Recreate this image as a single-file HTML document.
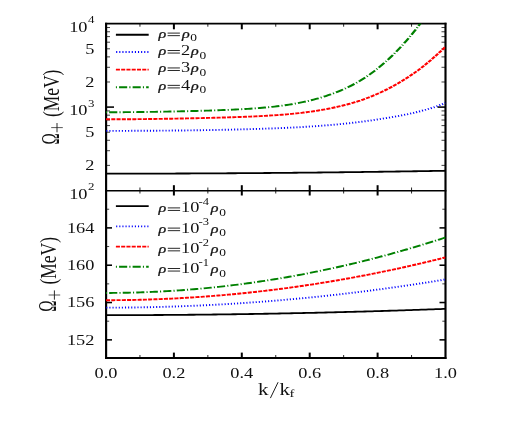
<!DOCTYPE html><html><head><meta charset="utf-8"><title>Omega+ vs k/kf</title><style>html,body{margin:0;padding:0;background:#fff}svg{display:block;will-change:transform;transform:translateZ(0)}text{font-family:"Liberation Serif",serif;fill:#111}</style></head><body>
<svg width="526" height="443" viewBox="0 0 526 443">
<rect width="526" height="443" fill="#fff"/>
<g stroke="#000">
<line x1="173.90" y1="23.70" x2="173.90" y2="29.30" stroke-width="2.0"/>
<line x1="173.90" y1="185.20" x2="173.90" y2="195.50" stroke-width="2.0"/>
<line x1="173.90" y1="352.60" x2="173.90" y2="358.00" stroke-width="2.0"/>
<line x1="241.80" y1="23.70" x2="241.80" y2="29.30" stroke-width="2.0"/>
<line x1="241.80" y1="185.20" x2="241.80" y2="195.50" stroke-width="2.0"/>
<line x1="241.80" y1="352.60" x2="241.80" y2="358.00" stroke-width="2.0"/>
<line x1="309.70" y1="23.70" x2="309.70" y2="29.30" stroke-width="2.0"/>
<line x1="309.70" y1="185.20" x2="309.70" y2="195.50" stroke-width="2.0"/>
<line x1="309.70" y1="352.60" x2="309.70" y2="358.00" stroke-width="2.0"/>
<line x1="377.60" y1="23.70" x2="377.60" y2="29.30" stroke-width="2.0"/>
<line x1="377.60" y1="185.20" x2="377.60" y2="195.50" stroke-width="2.0"/>
<line x1="377.60" y1="352.60" x2="377.60" y2="358.00" stroke-width="2.0"/>
<line x1="106.00" y1="107.10" x2="114.00" y2="107.10" stroke-width="1.55"/>
<line x1="437.50" y1="107.10" x2="445.50" y2="107.10" stroke-width="1.55"/>
<line x1="106.00" y1="339.85" x2="112.00" y2="339.85" stroke-width="1.55"/>
<line x1="439.50" y1="339.85" x2="445.50" y2="339.85" stroke-width="1.55"/>
<line x1="106.00" y1="302.53" x2="112.00" y2="302.53" stroke-width="1.55"/>
<line x1="439.50" y1="302.53" x2="445.50" y2="302.53" stroke-width="1.55"/>
<line x1="106.00" y1="265.21" x2="112.00" y2="265.21" stroke-width="1.55"/>
<line x1="439.50" y1="265.21" x2="445.50" y2="265.21" stroke-width="1.55"/>
<line x1="106.00" y1="227.89" x2="112.00" y2="227.89" stroke-width="1.55"/>
<line x1="439.50" y1="227.89" x2="445.50" y2="227.89" stroke-width="1.55"/>
</g>
<g stroke="#000">
<line x1="139.95" y1="23.70" x2="139.95" y2="26.70" stroke-width="0.85"/>
<line x1="139.95" y1="187.50" x2="139.95" y2="193.50" stroke-width="0.85"/>
<line x1="139.95" y1="355.00" x2="139.95" y2="358.00" stroke-width="0.85"/>
<line x1="207.85" y1="23.70" x2="207.85" y2="26.70" stroke-width="0.85"/>
<line x1="207.85" y1="187.50" x2="207.85" y2="193.50" stroke-width="0.85"/>
<line x1="207.85" y1="355.00" x2="207.85" y2="358.00" stroke-width="0.85"/>
<line x1="275.75" y1="23.70" x2="275.75" y2="26.70" stroke-width="0.85"/>
<line x1="275.75" y1="187.50" x2="275.75" y2="193.50" stroke-width="0.85"/>
<line x1="275.75" y1="355.00" x2="275.75" y2="358.00" stroke-width="0.85"/>
<line x1="343.65" y1="23.70" x2="343.65" y2="26.70" stroke-width="0.85"/>
<line x1="343.65" y1="187.50" x2="343.65" y2="193.50" stroke-width="0.85"/>
<line x1="343.65" y1="355.00" x2="343.65" y2="358.00" stroke-width="0.85"/>
<line x1="411.55" y1="23.70" x2="411.55" y2="26.70" stroke-width="0.85"/>
<line x1="411.55" y1="187.50" x2="411.55" y2="193.50" stroke-width="0.85"/>
<line x1="411.55" y1="355.00" x2="411.55" y2="358.00" stroke-width="0.85"/>
<line x1="106.00" y1="165.39" x2="110.00" y2="165.39" stroke-width="0.75"/>
<line x1="441.50" y1="165.39" x2="445.50" y2="165.39" stroke-width="0.75"/>
<line x1="106.00" y1="150.71" x2="110.00" y2="150.71" stroke-width="0.75"/>
<line x1="441.50" y1="150.71" x2="445.50" y2="150.71" stroke-width="0.75"/>
<line x1="106.00" y1="140.29" x2="110.00" y2="140.29" stroke-width="0.75"/>
<line x1="441.50" y1="140.29" x2="445.50" y2="140.29" stroke-width="0.75"/>
<line x1="106.00" y1="132.21" x2="110.00" y2="132.21" stroke-width="0.75"/>
<line x1="441.50" y1="132.21" x2="445.50" y2="132.21" stroke-width="0.75"/>
<line x1="106.00" y1="125.60" x2="110.00" y2="125.60" stroke-width="0.75"/>
<line x1="441.50" y1="125.60" x2="445.50" y2="125.60" stroke-width="0.75"/>
<line x1="106.00" y1="120.02" x2="110.00" y2="120.02" stroke-width="0.75"/>
<line x1="441.50" y1="120.02" x2="445.50" y2="120.02" stroke-width="0.75"/>
<line x1="106.00" y1="115.18" x2="110.00" y2="115.18" stroke-width="0.75"/>
<line x1="441.50" y1="115.18" x2="445.50" y2="115.18" stroke-width="0.75"/>
<line x1="106.00" y1="110.92" x2="110.00" y2="110.92" stroke-width="0.75"/>
<line x1="441.50" y1="110.92" x2="445.50" y2="110.92" stroke-width="0.75"/>
<line x1="106.00" y1="81.99" x2="110.00" y2="81.99" stroke-width="0.75"/>
<line x1="441.50" y1="81.99" x2="445.50" y2="81.99" stroke-width="0.75"/>
<line x1="106.00" y1="67.31" x2="110.00" y2="67.31" stroke-width="0.75"/>
<line x1="441.50" y1="67.31" x2="445.50" y2="67.31" stroke-width="0.75"/>
<line x1="106.00" y1="56.89" x2="110.00" y2="56.89" stroke-width="0.75"/>
<line x1="441.50" y1="56.89" x2="445.50" y2="56.89" stroke-width="0.75"/>
<line x1="106.00" y1="48.81" x2="110.00" y2="48.81" stroke-width="0.75"/>
<line x1="441.50" y1="48.81" x2="445.50" y2="48.81" stroke-width="0.75"/>
<line x1="106.00" y1="42.20" x2="110.00" y2="42.20" stroke-width="0.75"/>
<line x1="441.50" y1="42.20" x2="445.50" y2="42.20" stroke-width="0.75"/>
<line x1="106.00" y1="36.62" x2="110.00" y2="36.62" stroke-width="0.75"/>
<line x1="441.50" y1="36.62" x2="445.50" y2="36.62" stroke-width="0.75"/>
<line x1="106.00" y1="31.78" x2="110.00" y2="31.78" stroke-width="0.75"/>
<line x1="441.50" y1="31.78" x2="445.50" y2="31.78" stroke-width="0.75"/>
<line x1="106.00" y1="27.52" x2="110.00" y2="27.52" stroke-width="0.75"/>
<line x1="441.50" y1="27.52" x2="445.50" y2="27.52" stroke-width="0.75"/>
<line x1="106.00" y1="321.19" x2="109.20" y2="321.19" stroke-width="0.75"/>
<line x1="442.30" y1="321.19" x2="445.50" y2="321.19" stroke-width="0.75"/>
<line x1="106.00" y1="283.87" x2="109.20" y2="283.87" stroke-width="0.75"/>
<line x1="442.30" y1="283.87" x2="445.50" y2="283.87" stroke-width="0.75"/>
<line x1="106.00" y1="246.55" x2="109.20" y2="246.55" stroke-width="0.75"/>
<line x1="442.30" y1="246.55" x2="445.50" y2="246.55" stroke-width="0.75"/>
<line x1="106.00" y1="209.23" x2="109.20" y2="209.23" stroke-width="0.75"/>
<line x1="442.30" y1="209.23" x2="445.50" y2="209.23" stroke-width="0.75"/>
</g>
<g stroke="#000" stroke-linecap="square">
<line x1="106.0" y1="23.7" x2="445.5" y2="23.7" stroke-width="1.8"/>
<line x1="106.0" y1="358.0" x2="445.5" y2="358.0" stroke-width="1.8"/>
<line x1="106.0" y1="190.75" x2="445.5" y2="190.75" stroke-width="1.7"/>
<line x1="106.1" y1="23.7" x2="106.1" y2="358.0" stroke-width="2.15"/>
<line x1="445.5" y1="23.7" x2="445.5" y2="358.0" stroke-width="2.15"/>
</g>
<clipPath id="ct"><rect x="106.0" y="23.7" width="339.5" height="166.8"/></clipPath>
<clipPath id="cb"><rect x="106.0" y="190.5" width="339.5" height="167.5"/></clipPath>
<g fill="none" clip-path="url(#ct)"><g transform="scale(1.31,1)">
<path d="M80.92,173.65 L82.78,173.65 L84.64,173.65 L86.51,173.65 L88.37,173.65 L90.24,173.65 L92.10,173.64 L93.97,173.64 L95.83,173.64 L97.70,173.64 L99.56,173.63 L101.43,173.63 L103.29,173.63 L105.15,173.62 L107.02,173.62 L108.88,173.62 L110.75,173.61 L112.61,173.61 L114.48,173.60 L116.34,173.60 L118.21,173.59 L120.07,173.58 L121.93,173.58 L123.80,173.57 L125.66,173.56 L127.53,173.56 L129.39,173.55 L131.26,173.54 L133.12,173.53 L134.99,173.52 L136.85,173.51 L138.71,173.51 L140.58,173.50 L142.44,173.49 L144.31,173.48 L146.17,173.47 L148.04,173.46 L149.90,173.44 L151.77,173.43 L153.63,173.42 L155.49,173.41 L157.36,173.40 L159.22,173.39 L161.09,173.37 L162.95,173.36 L164.82,173.35 L166.68,173.33 L168.55,173.32 L170.41,173.30 L172.27,173.29 L174.14,173.27 L176.00,173.26 L177.87,173.24 L179.73,173.23 L181.60,173.21 L183.46,173.20 L185.33,173.18 L187.19,173.16 L189.05,173.15 L190.92,173.13 L192.78,173.11 L194.65,173.09 L196.51,173.07 L198.38,173.05 L200.24,173.04 L202.11,173.02 L203.97,173.00 L205.84,172.98 L207.70,172.96 L209.56,172.94 L211.43,172.91 L213.29,172.89 L215.16,172.87 L217.02,172.85 L218.89,172.83 L220.75,172.81 L222.62,172.78 L224.48,172.76 L226.34,172.74 L228.21,172.71 L230.07,172.69 L231.94,172.67 L233.80,172.64 L235.67,172.62 L237.53,172.59 L239.40,172.57 L241.26,172.54 L243.12,172.51 L244.99,172.49 L246.85,172.46 L248.72,172.43 L250.58,172.41 L252.45,172.38 L254.31,172.35 L256.18,172.32 L258.04,172.30 L259.90,172.27 L261.77,172.24 L263.63,172.21 L265.50,172.18 L267.36,172.15 L269.23,172.12 L271.09,172.09 L272.96,172.06 L274.82,172.03 L276.68,172.00 L278.55,171.96 L280.41,171.93 L282.28,171.90 L284.14,171.87 L286.01,171.83 L287.87,171.80 L289.74,171.77 L291.60,171.73 L293.46,171.70 L295.33,171.66 L297.19,171.63 L299.06,171.60 L300.92,171.56 L302.79,171.52 L304.65,171.49 L306.52,171.45 L308.38,171.42 L310.24,171.38 L312.11,171.34 L313.97,171.30 L315.84,171.27 L317.70,171.23 L319.57,171.19 L321.43,171.15 L323.30,171.11 L325.16,171.07 L327.03,171.03 L328.89,170.99 L330.75,170.95 L332.62,170.91 L334.48,170.87 L336.35,170.83 L338.21,170.79 L340.08,170.75" stroke="#000" stroke-width="1.8"/>
<path d="M80.92,130.86 L82.78,130.86 L84.64,130.86 L86.51,130.86 L88.37,130.86 L90.24,130.85 L92.10,130.85 L93.97,130.84 L95.83,130.84 L97.70,130.83 L99.56,130.82 L101.43,130.82 L103.29,130.81 L105.15,130.80 L107.02,130.79 L108.88,130.78 L110.75,130.76 L112.61,130.75 L114.48,130.74 L116.34,130.72 L118.21,130.71 L120.07,130.69 L121.93,130.67 L123.80,130.65 L125.66,130.63 L127.53,130.61 L129.39,130.59 L131.26,130.57 L133.12,130.55 L134.99,130.52 L136.85,130.50 L138.71,130.47 L140.58,130.44 L142.44,130.41 L144.31,130.38 L146.17,130.35 L148.04,130.32 L149.90,130.28 L151.77,130.25 L153.63,130.21 L155.49,130.17 L157.36,130.13 L159.22,130.09 L161.09,130.05 L162.95,130.00 L164.82,129.96 L166.68,129.91 L168.55,129.86 L170.41,129.81 L172.27,129.75 L174.14,129.70 L176.00,129.64 L177.87,129.58 L179.73,129.52 L181.60,129.46 L183.46,129.39 L185.33,129.32 L187.19,129.25 L189.05,129.18 L190.92,129.10 L192.78,129.04 L194.65,128.97 L196.51,128.90 L198.38,128.83 L200.24,128.76 L202.11,128.68 L203.97,128.60 L205.84,128.51 L207.70,128.43 L209.56,128.34 L211.43,128.24 L213.29,128.14 L215.16,128.04 L217.02,127.94 L218.89,127.83 L220.75,127.71 L222.62,127.60 L224.48,127.47 L226.34,127.35 L228.21,127.21 L230.07,127.08 L231.94,126.93 L233.80,126.78 L235.67,126.63 L237.53,126.47 L239.40,126.30 L241.26,126.13 L243.12,125.96 L244.99,125.77 L246.85,125.59 L248.72,125.39 L250.58,125.19 L252.45,124.98 L254.31,124.76 L256.18,124.54 L258.04,124.31 L259.90,124.08 L261.77,123.83 L263.63,123.58 L265.50,123.33 L267.36,123.07 L269.23,122.79 L271.09,122.51 L272.96,122.22 L274.82,121.92 L276.68,121.61 L278.55,121.29 L280.41,120.96 L282.28,120.62 L284.14,120.27 L286.01,119.91 L287.87,119.53 L289.74,119.15 L291.60,118.75 L293.46,118.34 L295.33,117.96 L297.19,117.57 L299.06,117.16 L300.92,116.75 L302.79,116.32 L304.65,115.87 L306.52,115.41 L308.38,114.94 L310.24,114.45 L312.11,113.94 L313.97,113.42 L315.84,112.87 L317.70,112.26 L319.57,111.64 L321.43,111.00 L323.30,110.34 L325.16,109.67 L327.03,108.97 L328.89,108.26 L330.75,107.51 L332.62,106.64 L334.48,105.76 L336.35,104.85 L338.21,103.92 L340.08,102.97" stroke="#0000ff" stroke-width="1.9" stroke-dasharray="0.84 1.54" stroke-dashoffset="-0.2"/>
<path d="M80.92,119.31 L82.78,119.31 L84.64,119.30 L86.51,119.30 L88.37,119.29 L90.24,119.28 L92.10,119.27 L93.97,119.26 L95.83,119.25 L97.70,119.23 L99.56,119.22 L101.43,119.20 L103.29,119.18 L105.15,119.15 L107.02,119.13 L108.88,119.11 L110.75,119.08 L112.61,119.05 L114.48,119.02 L116.34,118.99 L118.21,118.96 L120.07,118.92 L121.93,118.89 L123.80,118.85 L125.66,118.81 L127.53,118.77 L129.39,118.73 L131.26,118.69 L133.12,118.64 L134.99,118.60 L136.85,118.55 L138.71,118.51 L140.58,118.46 L142.44,118.41 L144.31,118.36 L146.17,118.31 L148.04,118.26 L149.90,118.20 L151.77,118.15 L153.63,118.09 L155.49,118.03 L157.36,117.97 L159.22,117.91 L161.09,117.85 L162.95,117.79 L164.82,117.72 L166.68,117.66 L168.55,117.59 L170.41,117.52 L172.27,117.45 L174.14,117.37 L176.00,117.30 L177.87,117.22 L179.73,117.14 L181.60,117.05 L183.46,116.96 L185.33,116.87 L187.19,116.78 L189.05,116.68 L190.92,116.58 L192.78,116.47 L194.65,116.36 L196.51,116.24 L198.38,116.12 L200.24,115.99 L202.11,115.86 L203.97,115.72 L205.84,115.57 L207.70,115.42 L209.56,115.26 L211.43,115.09 L213.29,114.91 L215.16,114.72 L217.02,114.53 L218.89,114.32 L220.75,114.11 L222.62,113.88 L224.48,113.64 L226.34,113.39 L228.21,113.12 L230.07,112.84 L231.94,112.55 L233.80,112.24 L235.67,111.92 L237.53,111.58 L239.40,111.22 L241.26,110.85 L243.12,110.46 L244.99,110.05 L246.85,109.63 L248.72,109.20 L250.58,108.74 L252.45,108.26 L254.31,107.76 L256.18,107.24 L258.04,106.69 L259.90,106.12 L261.77,105.53 L263.63,104.91 L265.50,104.27 L267.36,103.60 L269.23,102.90 L271.09,102.17 L272.96,101.41 L274.82,100.63 L276.68,99.78 L278.55,98.91 L280.41,98.00 L282.28,97.05 L284.14,96.07 L286.01,95.05 L287.87,94.00 L289.74,92.91 L291.60,91.78 L293.46,90.61 L295.33,89.40 L297.19,88.15 L299.06,86.86 L300.92,85.53 L302.79,84.16 L304.65,82.74 L306.52,81.29 L308.38,79.79 L310.24,78.24 L312.11,76.66 L313.97,75.03 L315.84,73.35 L317.70,71.64 L319.57,69.88 L321.43,68.04 L323.30,66.11 L325.16,64.13 L327.03,62.10 L328.89,60.03 L330.75,57.91 L332.62,55.76 L334.48,53.56 L336.35,51.31 L338.21,49.03 L340.08,46.71" stroke="#ff0000" stroke-width="1.9" stroke-dasharray="3.09 0.93"/>
<path d="M80.92,112.23 L82.78,112.23 L84.64,112.23 L86.51,112.23 L88.37,112.22 L90.24,112.21 L92.10,112.20 L93.97,112.18 L95.83,112.17 L97.70,112.15 L99.56,112.13 L101.43,112.11 L103.29,112.09 L105.15,112.06 L107.02,112.03 L108.88,112.00 L110.75,111.97 L112.61,111.94 L114.48,111.91 L116.34,111.87 L118.21,111.83 L120.07,111.79 L121.93,111.75 L123.80,111.71 L125.66,111.66 L127.53,111.62 L129.39,111.57 L131.26,111.52 L133.12,111.47 L134.99,111.42 L136.85,111.36 L138.71,111.31 L140.58,111.25 L142.44,111.19 L144.31,111.13 L146.17,111.07 L148.04,111.01 L149.90,110.94 L151.77,110.87 L153.63,110.80 L155.49,110.73 L157.36,110.66 L159.22,110.58 L161.09,110.50 L162.95,110.42 L164.82,110.34 L166.68,110.25 L168.55,110.16 L170.41,110.06 L172.27,109.96 L174.14,109.86 L176.00,109.75 L177.87,109.64 L179.73,109.52 L181.60,109.40 L183.46,109.27 L185.33,109.14 L187.19,108.99 L189.05,108.85 L190.92,108.69 L192.78,108.52 L194.65,108.35 L196.51,108.17 L198.38,107.97 L200.24,107.77 L202.11,107.55 L203.97,107.33 L205.84,107.09 L207.70,106.84 L209.56,106.57 L211.43,106.29 L213.29,105.99 L215.16,105.67 L217.02,105.34 L218.89,104.99 L220.75,104.62 L222.62,104.23 L224.48,103.82 L226.34,103.38 L228.21,102.92 L230.07,102.44 L231.94,101.93 L233.80,101.39 L235.67,100.83 L237.53,100.24 L239.40,99.61 L241.26,98.96 L243.12,98.27 L244.99,97.55 L246.85,96.81 L248.72,96.04 L250.58,95.23 L252.45,94.38 L254.31,93.49 L256.18,92.57 L258.04,91.60 L259.90,90.59 L261.77,89.53 L263.63,88.43 L265.50,87.28 L267.36,86.09 L269.23,84.84 L271.09,83.54 L272.96,82.20 L274.82,80.79 L276.68,79.28 L278.55,77.71 L280.41,76.08 L282.28,74.39 L284.14,72.63 L286.01,70.81 L287.87,68.92 L289.74,66.96 L291.60,64.93 L293.46,62.83 L295.33,60.66 L297.19,58.42 L299.06,56.11 L300.92,53.72 L302.79,51.25 L304.65,48.71 L306.52,46.11 L308.38,43.44 L310.24,40.69 L312.11,37.87 L313.97,34.96 L315.84,31.99 L317.70,28.93 L319.57,25.80 L321.43,22.59 L323.30,19.30" stroke="#008000" stroke-width="1.9" stroke-dasharray="6.2 1.64 0.85 1.64" stroke-dashoffset="7.9"/>
</g></g>
<g fill="none" clip-path="url(#cb)"><g transform="scale(1.31,1)">
<path d="M80.92,315.15 L82.78,315.15 L84.64,315.15 L86.51,315.15 L88.37,315.14 L90.24,315.14 L92.10,315.14 L93.97,315.13 L95.83,315.13 L97.70,315.12 L99.56,315.12 L101.43,315.11 L103.29,315.10 L105.15,315.09 L107.02,315.09 L108.88,315.08 L110.75,315.07 L112.61,315.06 L114.48,315.04 L116.34,315.03 L118.21,315.02 L120.07,315.01 L121.93,314.99 L123.80,314.98 L125.66,314.96 L127.53,314.95 L129.39,314.93 L131.26,314.91 L133.12,314.89 L134.99,314.88 L136.85,314.86 L138.71,314.84 L140.58,314.82 L142.44,314.79 L144.31,314.77 L146.17,314.75 L148.04,314.73 L149.90,314.70 L151.77,314.68 L153.63,314.65 L155.49,314.63 L157.36,314.60 L159.22,314.57 L161.09,314.55 L162.95,314.52 L164.82,314.49 L166.68,314.46 L168.55,314.43 L170.41,314.40 L172.27,314.37 L174.14,314.33 L176.00,314.30 L177.87,314.27 L179.73,314.23 L181.60,314.20 L183.46,314.16 L185.33,314.13 L187.19,314.09 L189.05,314.05 L190.92,314.01 L192.78,313.98 L194.65,313.94 L196.51,313.90 L198.38,313.86 L200.24,313.81 L202.11,313.77 L203.97,313.73 L205.84,313.69 L207.70,313.64 L209.56,313.60 L211.43,313.55 L213.29,313.51 L215.16,313.46 L217.02,313.41 L218.89,313.36 L220.75,313.32 L222.62,313.27 L224.48,313.22 L226.34,313.17 L228.21,313.11 L230.07,313.06 L231.94,313.01 L233.80,312.96 L235.67,312.90 L237.53,312.85 L239.40,312.79 L241.26,312.74 L243.12,312.68 L244.99,312.62 L246.85,312.57 L248.72,312.51 L250.58,312.45 L252.45,312.39 L254.31,312.33 L256.18,312.27 L258.04,312.21 L259.90,312.14 L261.77,312.08 L263.63,312.02 L265.50,311.95 L267.36,311.89 L269.23,311.82 L271.09,311.76 L272.96,311.69 L274.82,311.62 L276.68,311.56 L278.55,311.49 L280.41,311.42 L282.28,311.35 L284.14,311.28 L286.01,311.20 L287.87,311.13 L289.74,311.06 L291.60,310.99 L293.46,310.91 L295.33,310.84 L297.19,310.76 L299.06,310.69 L300.92,310.61 L302.79,310.53 L304.65,310.45 L306.52,310.38 L308.38,310.30 L310.24,310.22 L312.11,310.14 L313.97,310.06 L315.84,309.97 L317.70,309.89 L319.57,309.81 L321.43,309.72 L323.30,309.64 L325.16,309.55 L327.03,309.47 L328.89,309.38 L330.75,309.30 L332.62,309.21 L334.48,309.12 L336.35,309.03 L338.21,308.94 L340.08,308.85" stroke="#000" stroke-width="1.8"/>
<path d="M80.92,307.65 L82.78,307.65 L84.64,307.64 L86.51,307.64 L88.37,307.63 L90.24,307.61 L92.10,307.60 L93.97,307.58 L95.83,307.56 L97.70,307.53 L99.56,307.50 L101.43,307.47 L103.29,307.44 L105.15,307.40 L107.02,307.36 L108.88,307.32 L110.75,307.28 L112.61,307.23 L114.48,307.18 L116.34,307.12 L118.21,307.07 L120.07,307.01 L121.93,306.94 L123.80,306.88 L125.66,306.81 L127.53,306.74 L129.39,306.66 L131.26,306.59 L133.12,306.51 L134.99,306.42 L136.85,306.34 L138.71,306.25 L140.58,306.16 L142.44,306.06 L144.31,305.96 L146.17,305.86 L148.04,305.76 L149.90,305.65 L151.77,305.54 L153.63,305.43 L155.49,305.31 L157.36,305.20 L159.22,305.08 L161.09,304.95 L162.95,304.82 L164.82,304.69 L166.68,304.56 L168.55,304.43 L170.41,304.29 L172.27,304.15 L174.14,304.00 L176.00,303.85 L177.87,303.70 L179.73,303.55 L181.60,303.39 L183.46,303.23 L185.33,303.07 L187.19,302.91 L189.05,302.74 L190.92,302.57 L192.78,302.40 L194.65,302.22 L196.51,302.04 L198.38,301.86 L200.24,301.67 L202.11,301.48 L203.97,301.29 L205.84,301.10 L207.70,300.90 L209.56,300.70 L211.43,300.50 L213.29,300.29 L215.16,300.08 L217.02,299.87 L218.89,299.66 L220.75,299.44 L222.62,299.22 L224.48,299.00 L226.34,298.77 L228.21,298.54 L230.07,298.31 L231.94,298.07 L233.80,297.84 L235.67,297.60 L237.53,297.35 L239.40,297.10 L241.26,296.86 L243.12,296.60 L244.99,296.35 L246.85,296.09 L248.72,295.83 L250.58,295.56 L252.45,295.30 L254.31,295.03 L256.18,294.75 L258.04,294.48 L259.90,294.20 L261.77,293.92 L263.63,293.63 L265.50,293.34 L267.36,293.05 L269.23,292.76 L271.09,292.46 L272.96,292.17 L274.82,291.86 L276.68,291.56 L278.55,291.25 L280.41,290.94 L282.28,290.63 L284.14,290.31 L286.01,289.99 L287.87,289.67 L289.74,289.34 L291.60,289.01 L293.46,288.68 L295.33,288.35 L297.19,288.01 L299.06,287.67 L300.92,287.33 L302.79,286.98 L304.65,286.63 L306.52,286.28 L308.38,285.93 L310.24,285.57 L312.11,285.21 L313.97,284.84 L315.84,284.48 L317.70,284.11 L319.57,283.74 L321.43,283.36 L323.30,282.98 L325.16,282.60 L327.03,282.22 L328.89,281.83 L330.75,281.44 L332.62,281.05 L334.48,280.65 L336.35,280.26 L338.21,279.85 L340.08,279.45" stroke="#0000ff" stroke-width="1.9" stroke-dasharray="0.84 1.54" stroke-dashoffset="-0.2"/>
<path d="M80.92,300.20 L82.78,300.20 L84.64,300.19 L86.51,300.18 L88.37,300.16 L90.24,300.14 L92.10,300.12 L93.97,300.09 L95.83,300.06 L97.70,300.02 L99.56,299.98 L101.43,299.93 L103.29,299.88 L105.15,299.83 L107.02,299.77 L108.88,299.70 L110.75,299.63 L112.61,299.56 L114.48,299.48 L116.34,299.40 L118.21,299.31 L120.07,299.22 L121.93,299.13 L123.80,299.03 L125.66,298.92 L127.53,298.82 L129.39,298.70 L131.26,298.59 L133.12,298.46 L134.99,298.34 L136.85,298.21 L138.71,298.07 L140.58,297.93 L142.44,297.79 L144.31,297.64 L146.17,297.49 L148.04,297.33 L149.90,297.17 L151.77,297.00 L153.63,296.83 L155.49,296.66 L157.36,296.48 L159.22,296.29 L161.09,296.10 L162.95,295.91 L164.82,295.71 L166.68,295.51 L168.55,295.31 L170.41,295.10 L172.27,294.88 L174.14,294.66 L176.00,294.44 L177.87,294.21 L179.73,293.98 L181.60,293.74 L183.46,293.50 L185.33,293.25 L187.19,293.00 L189.05,292.75 L190.92,292.49 L192.78,292.23 L194.65,291.96 L196.51,291.68 L198.38,291.41 L200.24,291.13 L202.11,290.84 L203.97,290.55 L205.84,290.26 L207.70,289.96 L209.56,289.65 L211.43,289.35 L213.29,289.03 L215.16,288.72 L217.02,288.40 L218.89,288.07 L220.75,287.74 L222.62,287.40 L224.48,287.07 L226.34,286.72 L228.21,286.37 L230.07,286.02 L231.94,285.67 L233.80,285.30 L235.67,284.94 L237.53,284.57 L239.40,284.20 L241.26,283.82 L243.12,283.43 L244.99,283.05 L246.85,282.65 L248.72,282.26 L250.58,281.86 L252.45,281.45 L254.31,281.04 L256.18,280.63 L258.04,280.21 L259.90,279.78 L261.77,279.36 L263.63,278.93 L265.50,278.49 L267.36,278.05 L269.23,277.60 L271.09,277.15 L272.96,276.70 L274.82,276.24 L276.68,275.78 L278.55,275.31 L280.41,274.84 L282.28,274.36 L284.14,273.88 L286.01,273.40 L287.87,272.91 L289.74,272.41 L291.60,271.91 L293.46,271.41 L295.33,270.90 L297.19,270.39 L299.06,269.88 L300.92,269.36 L302.79,268.83 L304.65,268.30 L306.52,267.77 L308.38,267.23 L310.24,266.69 L312.11,266.14 L313.97,265.59 L315.84,265.03 L317.70,264.47 L319.57,263.91 L321.43,263.34 L323.30,262.76 L325.16,262.18 L327.03,261.60 L328.89,261.02 L330.75,260.42 L332.62,259.83 L334.48,259.23 L336.35,258.62 L338.21,258.01 L340.08,257.40" stroke="#ff0000" stroke-width="1.9" stroke-dasharray="3.09 0.93"/>
<path d="M80.92,292.95 L82.78,292.95 L84.64,292.94 L86.51,292.92 L88.37,292.90 L90.24,292.88 L92.10,292.85 L93.97,292.81 L95.83,292.77 L97.70,292.72 L99.56,292.66 L101.43,292.60 L103.29,292.54 L105.15,292.46 L107.02,292.39 L108.88,292.30 L110.75,292.21 L112.61,292.12 L114.48,292.02 L116.34,291.91 L118.21,291.80 L120.07,291.68 L121.93,291.56 L123.80,291.43 L125.66,291.30 L127.53,291.15 L129.39,291.01 L131.26,290.86 L133.12,290.70 L134.99,290.53 L136.85,290.36 L138.71,290.19 L140.58,290.01 L142.44,289.82 L144.31,289.63 L146.17,289.43 L148.04,289.23 L149.90,289.02 L151.77,288.80 L153.63,288.58 L155.49,288.35 L157.36,288.12 L159.22,287.88 L161.09,287.64 L162.95,287.39 L164.82,287.13 L166.68,286.87 L168.55,286.60 L170.41,286.33 L172.27,286.05 L174.14,285.77 L176.00,285.48 L177.87,285.18 L179.73,284.88 L181.60,284.57 L183.46,284.26 L185.33,283.94 L187.19,283.62 L189.05,283.29 L190.92,282.95 L192.78,282.61 L194.65,282.26 L196.51,281.91 L198.38,281.55 L200.24,281.18 L202.11,280.81 L203.97,280.44 L205.84,280.06 L207.70,279.67 L209.56,279.27 L211.43,278.87 L213.29,278.47 L215.16,278.06 L217.02,277.64 L218.89,277.22 L220.75,276.79 L222.62,276.36 L224.48,275.92 L226.34,275.47 L228.21,275.02 L230.07,274.57 L231.94,274.10 L233.80,273.64 L235.67,273.16 L237.53,272.68 L239.40,272.20 L241.26,271.70 L243.12,271.21 L244.99,270.71 L246.85,270.20 L248.72,269.68 L250.58,269.16 L252.45,268.64 L254.31,268.11 L256.18,267.57 L258.04,267.03 L259.90,266.48 L261.77,265.92 L263.63,265.36 L265.50,264.80 L267.36,264.22 L269.23,263.65 L271.09,263.06 L272.96,262.48 L274.82,261.88 L276.68,261.28 L278.55,260.67 L280.41,260.06 L282.28,259.44 L284.14,258.82 L286.01,258.19 L287.87,257.56 L289.74,256.92 L291.60,256.27 L293.46,255.62 L295.33,254.96 L297.19,254.30 L299.06,253.63 L300.92,252.95 L302.79,252.27 L304.65,251.59 L306.52,250.89 L308.38,250.20 L310.24,249.49 L312.11,248.78 L313.97,248.07 L315.84,247.35 L317.70,246.62 L319.57,245.89 L321.43,245.15 L323.30,244.40 L325.16,243.65 L327.03,242.90 L328.89,242.14 L330.75,241.37 L332.62,240.60 L334.48,239.82 L336.35,239.04 L338.21,238.25 L340.08,237.45" stroke="#008000" stroke-width="1.9" stroke-dasharray="6.2 1.64 0.85 1.64" stroke-dashoffset="7.9"/>
</g></g>
<text transform="translate(106.00,377.70) scale(1.31,1)" text-anchor="middle" font-size="14">0.0</text>
<text transform="translate(173.90,377.70) scale(1.31,1)" text-anchor="middle" font-size="14">0.2</text>
<text transform="translate(241.80,377.70) scale(1.31,1)" text-anchor="middle" font-size="14">0.4</text>
<text transform="translate(309.70,377.70) scale(1.31,1)" text-anchor="middle" font-size="14">0.6</text>
<text transform="translate(377.60,377.70) scale(1.31,1)" text-anchor="middle" font-size="14">0.8</text>
<text transform="translate(445.50,377.70) scale(1.31,1)" text-anchor="middle" font-size="14">1.0</text>
<text transform="translate(258.00,394.50) scale(1.31,1)" text-anchor="start" font-size="16">k</text>
<path d="M270.4,398.1L278.1,382.2" stroke="#111" stroke-width="0.95" fill="none"/>
<text transform="translate(279.40,394.50) scale(1.31,1)" text-anchor="start" font-size="16">k</text>
<text transform="translate(289.40,397.40) scale(1.31,1)" text-anchor="start" font-size="11.2">f</text>
<text transform="translate(94.40,53.71) scale(1.31,1)" text-anchor="end" font-size="14">5</text>
<text transform="translate(94.40,86.89) scale(1.31,1)" text-anchor="end" font-size="14">2</text>
<text transform="translate(94.40,137.11) scale(1.31,1)" text-anchor="end" font-size="14">5</text>
<text transform="translate(94.40,170.29) scale(1.31,1)" text-anchor="end" font-size="14">2</text>
<text transform="translate(94.40,31.70) scale(1.31,1)" text-anchor="end" font-size="14">10<tspan font-size="9.8" dx="0.4" dy="-8.4">4</tspan></text>
<text transform="translate(94.40,115.10) scale(1.31,1)" text-anchor="end" font-size="14">10<tspan font-size="9.8" dx="0.4" dy="-8.4">3</tspan></text>
<text transform="translate(94.40,198.50) scale(1.31,1)" text-anchor="end" font-size="14">10<tspan font-size="9.8" dx="0.4" dy="-8.4">2</tspan></text>
<text transform="translate(94.40,344.75) scale(1.31,1)" text-anchor="end" font-size="14">152</text>
<text transform="translate(94.40,307.43) scale(1.31,1)" text-anchor="end" font-size="14">156</text>
<text transform="translate(94.40,270.11) scale(1.31,1)" text-anchor="end" font-size="14">160</text>
<text transform="translate(94.40,232.79) scale(1.31,1)" text-anchor="end" font-size="14">164</text>
<text transform="translate(58.80,144.40) rotate(-90) scale(0.95,1.54)" font-size="16" fill="#2a2a2a">Ω</text>
<path d="M51.20,127.60h11.6" stroke="#222" stroke-width="0.75" fill="none"/>
<path d="M57.00,123.00v9.3" stroke="#222" stroke-width="0.95" fill="none"/>
<text transform="translate(58.80,117.10) rotate(-90) scale(1.09,1.40)" font-size="16" fill="#1a1a1a">(MeV)</text>
<text transform="translate(56.20,311.80) rotate(-90) scale(0.95,1.54)" font-size="16" fill="#2a2a2a">Ω</text>
<path d="M48.60,295.00h11.6" stroke="#222" stroke-width="0.75" fill="none"/>
<path d="M54.40,290.40v9.3" stroke="#222" stroke-width="0.95" fill="none"/>
<text transform="translate(56.20,284.50) rotate(-90) scale(1.09,1.40)" font-size="16" fill="#1a1a1a">(MeV)</text>
<line transform="scale(1.31,1)" x1="88.47" y1="34.75" x2="113.51" y2="34.75" fill="none" stroke="#000" stroke-width="1.8"/>
<text transform="translate(158.50,37.60) scale(1.24,1)" text-anchor="start" font-size="13" font-style="italic" stroke="#111" stroke-width="0.25">ρ</text>
<path d="M167.6,33.1h12.3M167.6,35.65h12.3" stroke="#111" stroke-width="0.9" fill="none"/>
<text transform="translate(181.90,37.60) scale(1.24,1)" text-anchor="start" font-size="13" font-style="italic" stroke="#111" stroke-width="0.25">ρ</text>
<text transform="translate(190.30,41.20) scale(1.4,1)" text-anchor="start" font-size="9.6">0</text>
<line transform="scale(1.31,1)" x1="88.47" y1="52.00" x2="113.51" y2="52.00" fill="none" stroke="#0000ff" stroke-width="1.9" stroke-dasharray="0.84 1.54" stroke-dashoffset="-0.2"/>
<text transform="translate(158.50,55.02) scale(1.24,1)" text-anchor="start" font-size="13" font-style="italic" stroke="#111" stroke-width="0.25">ρ</text>
<path d="M167.6,50.52h12.3M167.6,53.07h12.3" stroke="#111" stroke-width="0.9" fill="none"/>
<text transform="translate(181.00,55.02) scale(1.31,1)" text-anchor="start" font-size="14">2</text>
<text transform="translate(191.10,55.02) scale(1.24,1)" text-anchor="start" font-size="13" font-style="italic" stroke="#111" stroke-width="0.25">ρ</text>
<text transform="translate(199.50,58.62) scale(1.4,1)" text-anchor="start" font-size="9.6">0</text>
<line transform="scale(1.31,1)" x1="88.47" y1="69.60" x2="113.51" y2="69.60" fill="none" stroke="#ff0000" stroke-width="1.9" stroke-dasharray="3.09 0.93"/>
<text transform="translate(158.50,72.44) scale(1.24,1)" text-anchor="start" font-size="13" font-style="italic" stroke="#111" stroke-width="0.25">ρ</text>
<path d="M167.6,67.94h12.3M167.6,70.49h12.3" stroke="#111" stroke-width="0.9" fill="none"/>
<text transform="translate(181.00,72.44) scale(1.31,1)" text-anchor="start" font-size="14">3</text>
<text transform="translate(191.10,72.44) scale(1.24,1)" text-anchor="start" font-size="13" font-style="italic" stroke="#111" stroke-width="0.25">ρ</text>
<text transform="translate(199.50,76.04) scale(1.4,1)" text-anchor="start" font-size="9.6">0</text>
<line transform="scale(1.31,1)" x1="88.47" y1="87.20" x2="113.51" y2="87.20" fill="none" stroke="#008000" stroke-width="1.9" stroke-dasharray="6.2 1.64 0.85 1.64" stroke-dashoffset="7.9"/>
<text transform="translate(158.50,89.86) scale(1.24,1)" text-anchor="start" font-size="13" font-style="italic" stroke="#111" stroke-width="0.25">ρ</text>
<path d="M167.6,85.36000000000001h12.3M167.6,87.91000000000001h12.3" stroke="#111" stroke-width="0.9" fill="none"/>
<text transform="translate(181.00,89.86) scale(1.31,1)" text-anchor="start" font-size="14">4</text>
<text transform="translate(191.10,89.86) scale(1.24,1)" text-anchor="start" font-size="13" font-style="italic" stroke="#111" stroke-width="0.25">ρ</text>
<text transform="translate(199.50,93.46) scale(1.4,1)" text-anchor="start" font-size="9.6">0</text>
<line transform="scale(1.31,1)" x1="88.47" y1="206.20" x2="113.51" y2="206.20" fill="none" stroke="#000" stroke-width="1.8"/>
<text transform="translate(158.50,212.40) scale(1.24,1)" text-anchor="start" font-size="13" font-style="italic" stroke="#111" stroke-width="0.25">ρ</text>
<path d="M167.8,207.9h12.3M167.8,210.45000000000002h12.3" stroke="#111" stroke-width="0.9" fill="none"/>
<text transform="translate(181.00,212.40) scale(1.31,1)" text-anchor="start" font-size="14">10</text>
<text transform="translate(198.40,204.50) scale(1.3,1)" text-anchor="start" font-size="9.8">-</text>
<text transform="translate(202.70,205.20) scale(1.3,1)" text-anchor="start" font-size="9.6">4</text>
<text transform="translate(210.70,212.40) scale(1.24,1)" text-anchor="start" font-size="13" font-style="italic" stroke="#111" stroke-width="0.25">ρ</text>
<text transform="translate(219.30,216.00) scale(1.4,1)" text-anchor="start" font-size="9.6">0</text>
<line transform="scale(1.31,1)" x1="88.47" y1="226.40" x2="113.51" y2="226.40" fill="none" stroke="#0000ff" stroke-width="1.9" stroke-dasharray="0.84 1.54" stroke-dashoffset="-0.2"/>
<text transform="translate(158.50,232.60) scale(1.24,1)" text-anchor="start" font-size="13" font-style="italic" stroke="#111" stroke-width="0.25">ρ</text>
<path d="M167.8,228.1h12.3M167.8,230.65h12.3" stroke="#111" stroke-width="0.9" fill="none"/>
<text transform="translate(181.00,232.60) scale(1.31,1)" text-anchor="start" font-size="14">10</text>
<text transform="translate(198.40,224.70) scale(1.3,1)" text-anchor="start" font-size="9.8">-</text>
<text transform="translate(202.70,225.40) scale(1.3,1)" text-anchor="start" font-size="9.6">3</text>
<text transform="translate(210.70,232.60) scale(1.24,1)" text-anchor="start" font-size="13" font-style="italic" stroke="#111" stroke-width="0.25">ρ</text>
<text transform="translate(219.30,236.20) scale(1.4,1)" text-anchor="start" font-size="9.6">0</text>
<line transform="scale(1.31,1)" x1="88.47" y1="246.60" x2="113.51" y2="246.60" fill="none" stroke="#ff0000" stroke-width="1.9" stroke-dasharray="3.09 0.93"/>
<text transform="translate(158.50,252.80) scale(1.24,1)" text-anchor="start" font-size="13" font-style="italic" stroke="#111" stroke-width="0.25">ρ</text>
<path d="M167.8,248.3h12.3M167.8,250.85000000000002h12.3" stroke="#111" stroke-width="0.9" fill="none"/>
<text transform="translate(181.00,252.80) scale(1.31,1)" text-anchor="start" font-size="14">10</text>
<text transform="translate(198.40,244.90) scale(1.3,1)" text-anchor="start" font-size="9.8">-</text>
<text transform="translate(202.70,245.60) scale(1.3,1)" text-anchor="start" font-size="9.6">2</text>
<text transform="translate(210.70,252.80) scale(1.24,1)" text-anchor="start" font-size="13" font-style="italic" stroke="#111" stroke-width="0.25">ρ</text>
<text transform="translate(219.30,256.40) scale(1.4,1)" text-anchor="start" font-size="9.6">0</text>
<line transform="scale(1.31,1)" x1="88.47" y1="266.80" x2="113.51" y2="266.80" fill="none" stroke="#008000" stroke-width="1.9" stroke-dasharray="6.2 1.64 0.85 1.64" stroke-dashoffset="7.9"/>
<text transform="translate(158.50,273.00) scale(1.24,1)" text-anchor="start" font-size="13" font-style="italic" stroke="#111" stroke-width="0.25">ρ</text>
<path d="M167.8,268.5h12.3M167.8,271.05h12.3" stroke="#111" stroke-width="0.9" fill="none"/>
<text transform="translate(181.00,273.00) scale(1.31,1)" text-anchor="start" font-size="14">10</text>
<text transform="translate(198.40,265.10) scale(1.3,1)" text-anchor="start" font-size="9.8">-</text>
<text transform="translate(202.70,265.80) scale(1.3,1)" text-anchor="start" font-size="9.6">1</text>
<text transform="translate(210.70,273.00) scale(1.24,1)" text-anchor="start" font-size="13" font-style="italic" stroke="#111" stroke-width="0.25">ρ</text>
<text transform="translate(219.30,276.60) scale(1.4,1)" text-anchor="start" font-size="9.6">0</text>
</svg></body></html>
